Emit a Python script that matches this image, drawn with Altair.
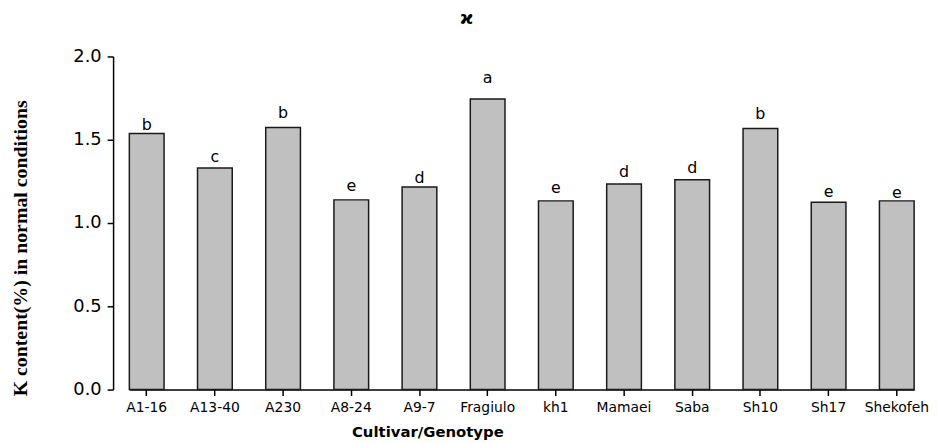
import altair as alt
import pandas as pd

cultivars = ["A1-16", "A13-40", "A230", "A8-24", "A9-7", "Fragiulo", "kh1",
             "Mamaei", "Saba", "Sh10", "Sh17", "Shekofeh"]
k_content = [1.537, 1.331, 1.573, 1.139, 1.216, 1.744, 1.133, 1.234, 1.260, 1.567, 1.125, 1.133]
letters = ["b", "c", "b", "e", "d", "a", "e", "d", "d", "b", "e", "e"]
letter_pos = [1.561, 1.367, 1.633, 1.194, 1.242, 1.841, 1.182, 1.276, 1.301, 1.625, 1.158, 1.149]
y_ticks = [0.0, 0.5, 1.0, 1.5, 2.0]

df = pd.DataFrame({"cultivar": cultivars, "k": k_content,
                   "letter": letters, "lpos": letter_pos})

xscale = alt.Scale(domain=cultivars, range=[16.4, 808], paddingInner=0.491,
                   paddingOuter=0, round=False)
yscale = alt.Scale(domain=[0, 2], nice=False)

xaxis = alt.Axis(title="Cultivar/Genotype", labelAngle=0, labelFont="DejaVu Sans",
                 labelFontSize=14, labelColor="black", labelPadding=5,
                 tickSize=6, tickColor="black", tickWidth=1.5,
                 domainColor="black", domainWidth=1.5,
                 titleFont="DejaVu Sans", titleFontSize=15, titleFontWeight="bold",
                 titleColor="black", titleX=317, titleY=47, titleAlign="center",
                 titleBaseline="alphabetic")
yaxis = alt.Axis(title="K content(%) in normal conditions", values=y_ticks, format=".1f",
                 grid=False, labelFont="DejaVu Sans", labelFontSize=18, labelColor="black",
                 labelPadding=6, tickSize=6, tickColor="black", tickWidth=1.5,
                 domainColor="black", domainWidth=1.5,
                 titleFont="Liberation Serif", titleFontSize=20, titleFontWeight="bold",
                 titleColor="black", titleAngle=-90, titleX=-93, titleY=193,
                 titleAlign="center", titleBaseline="middle")

bars = alt.Chart(df).mark_bar(fill="#c0c0c0", stroke="#1a1a1a", strokeWidth=1.5).encode(
    x=alt.X("cultivar:N", scale=xscale, axis=xaxis, sort=cultivars),
    y=alt.Y("k:Q", scale=yscale, axis=yaxis),
)

labels = alt.Chart(df).mark_text(font="DejaVu Sans", fontSize=16, color="black",
                                 baseline="alphabetic", align="center").encode(
    x=alt.X("cultivar:N", scale=xscale, sort=cultivars),
    y=alt.Y("lpos:Q", scale=yscale),
    text="letter:N",
)

chart = alt.layer(bars, labels).properties(
    width=813, height=336,
    background="white",
    title=alt.TitleParams(text="ϰ", font="DejaVu Sans", fontSize=18, fontWeight="bold",
                          color="black", dx=-50, offset=20, frame="group"),
    autosize=alt.AutoSizeParams(type="none"),
    padding={"left": 106, "top": 47, "right": 11, "bottom": 52},
).configure_view(stroke=None)

chart.save("out.html", embed_options={"renderer": "svg", "actions": False})
